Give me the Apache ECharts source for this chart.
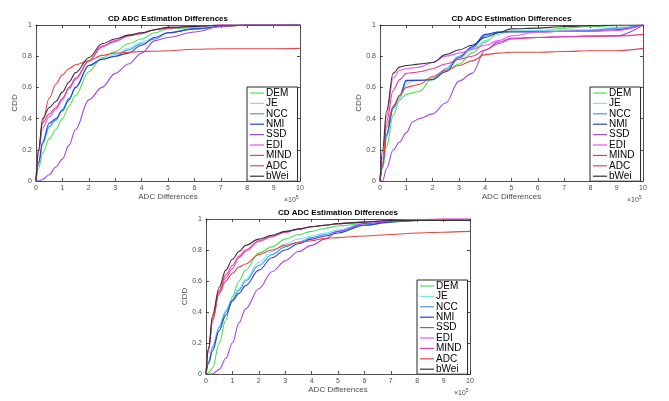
<!DOCTYPE html>
<html>
<head>
<meta charset="utf-8">
<script src="https://cdn.jsdelivr.net/npm/echarts@6/dist/echarts.min.js"></script>
<style>
  html, body { margin: 0; padding: 0; background: #fff; }
  #main { width: 669px; height: 401px; }
</style>
</head>
<body>
<div id="main"></div>
<script>
// x in units of 1e5
let xs = [0, 0.1, 0.25, 0.5, 0.75, 1, 1.25, 1.5, 2, 2.5, 3, 3.5, 4, 4.5, 5, 6, 7, 8, 9, 10];
let names = ['DEM', 'JE', 'NCC', 'NMI', 'SSD', 'EDI', 'MIND', 'ADC', 'bWei'];
let colors = ['#4fe24f', '#72e8ee', '#3c9cf0', '#2b3fe0', '#a244ec', '#f052f0', '#ee3a8c', '#ee4444', '#333333'];

// top left
let dem1 = [0, 0.08, 0.18, 0.27, 0.33, 0.40, 0.48, 0.55, 0.70, 0.79, 0.83, 0.88, 0.91, 0.95, 0.975, 0.985, 1, 1, 1, 1];
let je1 = [0, 0.10, 0.23, 0.34, 0.39, 0.45, 0.53, 0.60, 0.74, 0.78, 0.81, 0.85, 0.89, 0.92, 0.95, 0.975, 0.99, 1, 1, 1];
let ncc1 = [0, 0.11, 0.24, 0.35, 0.39, 0.46, 0.53, 0.60, 0.74, 0.78, 0.80, 0.84, 0.88, 0.91, 0.95, 0.975, 0.99, 1, 1, 1];
let nmi1 = [0, 0.12, 0.25, 0.37, 0.40, 0.45, 0.52, 0.60, 0.74, 0.78, 0.80, 0.82, 0.87, 0.92, 0.95, 0.975, 0.99, 1, 1, 1];
let ssd1 = [0, 0, 0.01, 0.04, 0.09, 0.14, 0.23, 0.33, 0.52, 0.60, 0.69, 0.75, 0.82, 0.90, 0.92, 0.955, 0.99, 1, 1, 1];
let edi1 = [0, 0.18, 0.34, 0.41, 0.46, 0.52, 0.59, 0.65, 0.77, 0.865, 0.90, 0.935, 0.95, 0.97, 0.985, 0.99, 1, 1, 1, 1];
let mind1 = [0, 0.20, 0.37, 0.43, 0.47, 0.53, 0.60, 0.66, 0.77, 0.86, 0.895, 0.93, 0.945, 0.97, 0.98, 0.99, 1, 1, 1, 1];
let adc1 = [0, 0.20, 0.38, 0.53, 0.62, 0.68, 0.72, 0.745, 0.77, 0.805, 0.82, 0.825, 0.83, 0.832, 0.835, 0.845, 0.848, 0.848, 0.848, 0.85];
let bwei1 = [0, 0.20, 0.40, 0.47, 0.51, 0.57, 0.635, 0.695, 0.79, 0.88, 0.91, 0.935, 0.95, 0.97, 0.985, 0.99, 1, 1, 1, 1];

// top right
let dem2 = [0, 0.08, 0.22, 0.42, 0.52, 0.555, 0.565, 0.575, 0.66, 0.70, 0.75, 0.82, 0.89, 0.95, 0.96, 0.96, 0.98, 0.99, 0.995, 1];
let je2 = [0, 0.10, 0.28, 0.46, 0.53, 0.62, 0.64, 0.645, 0.65, 0.71, 0.78, 0.84, 0.90, 0.94, 0.96, 0.965, 0.97, 0.97, 0.98, 1];
let ncc2 = [0, 0.10, 0.29, 0.47, 0.54, 0.64, 0.645, 0.645, 0.65, 0.72, 0.80, 0.85, 0.93, 0.955, 0.96, 0.96, 0.96, 0.965, 0.98, 1];
let nmi2 = [0, 0.10, 0.30, 0.47, 0.55, 0.645, 0.645, 0.645, 0.65, 0.70, 0.79, 0.86, 0.94, 0.955, 0.955, 0.955, 0.96, 0.96, 0.97, 1];
let ssd2 = [0, 0, 0.08, 0.20, 0.25, 0.31, 0.38, 0.40, 0.43, 0.50, 0.64, 0.69, 0.84, 0.89, 0.915, 0.92, 0.925, 0.93, 0.93, 1];
let edi2 = [0, 0.15, 0.42, 0.66, 0.71, 0.72, 0.725, 0.73, 0.76, 0.80, 0.82, 0.845, 0.87, 0.90, 0.93, 0.955, 0.96, 0.96, 0.965, 1];
let mind2 = [0, 0.12, 0.38, 0.58, 0.65, 0.69, 0.695, 0.70, 0.72, 0.75, 0.78, 0.80, 0.84, 0.88, 0.91, 0.92, 0.925, 0.925, 0.93, 0.94];
let adc2 = [0, 0.10, 0.35, 0.48, 0.55, 0.60, 0.61, 0.62, 0.67, 0.71, 0.74, 0.77, 0.81, 0.82, 0.825, 0.825, 0.83, 0.835, 0.835, 0.85];
let bwei2 = [0, 0.20, 0.45, 0.69, 0.73, 0.74, 0.745, 0.75, 0.76, 0.81, 0.84, 0.87, 0.92, 0.95, 0.975, 0.98, 0.99, 0.995, 1, 1];

// bottom
let dem3 = [0, 0.01, 0.04, 0.20, 0.35, 0.50, 0.60, 0.67, 0.78, 0.82, 0.87, 0.90, 0.92, 0.94, 0.955, 0.97, 0.985, 0.99, 0.99, 0.99];
let je3 = [0, 0.08, 0.18, 0.31, 0.41, 0.49, 0.55, 0.61, 0.72, 0.79, 0.84, 0.87, 0.89, 0.91, 0.93, 0.97, 0.985, 0.99, 0.99, 0.99];
let ncc3 = [0, 0.08, 0.17, 0.30, 0.40, 0.48, 0.54, 0.60, 0.70, 0.77, 0.82, 0.85, 0.88, 0.90, 0.92, 0.96, 0.98, 0.99, 0.99, 0.99];
let nmi3 = [0, 0.07, 0.15, 0.28, 0.38, 0.47, 0.52, 0.57, 0.67, 0.75, 0.80, 0.84, 0.87, 0.89, 0.91, 0.96, 0.98, 0.99, 0.99, 0.99];
let ssd3 = [0, 0, 0, 0.03, 0.10, 0.20, 0.33, 0.42, 0.55, 0.66, 0.73, 0.79, 0.83, 0.87, 0.92, 0.97, 0.985, 0.99, 1, 1];
let edi3 = [0, 0.15, 0.34, 0.53, 0.62, 0.68, 0.75, 0.79, 0.855, 0.885, 0.915, 0.935, 0.95, 0.96, 0.97, 0.98, 0.99, 0.995, 1, 1];
let mind3 = [0, 0.16, 0.36, 0.54, 0.64, 0.70, 0.76, 0.80, 0.86, 0.89, 0.915, 0.935, 0.95, 0.96, 0.97, 0.98, 0.99, 0.995, 1, 1];
let adc3 = [0, 0.17, 0.35, 0.52, 0.60, 0.65, 0.69, 0.71, 0.77, 0.80, 0.83, 0.85, 0.86, 0.875, 0.88, 0.89, 0.90, 0.91, 0.915, 0.92];
let bwei3 = [0, 0.17, 0.38, 0.56, 0.67, 0.74, 0.79, 0.83, 0.87, 0.895, 0.92, 0.935, 0.95, 0.96, 0.97, 0.98, 0.99, 0.99, 0.99, 0.99];

let panels = [
    [dem1, je1, ncc1, nmi1, ssd1, edi1, mind1, adc1, bwei1],
    [dem2, je2, ncc2, nmi2, ssd2, edi2, mind2, adc2, bwei2],
    [dem3, je3, ncc3, nmi3, ssd3, edi3, mind3, adc3, bwei3]
];

let grids = [
    {left: 36, top: 25, width: 264, height: 156},
    {left: 380, top: 25, width: 263, height: 156},
    {left: 206, top: 219, width: 264, height: 155}
];

let font = 'Liberation Sans, Arial, sans-serif';
let axisColor = '#262626';

let xAxis = [], yAxis = [], series = [], title = [], legend = [], graphic = [];

function boxAxis(pos, i, isX) {
    let a = {
        type: 'value', gridIndex: i, position: pos,
        axisLine: {onZero: false, lineStyle: {color: axisColor, width: 0.8}},
        axisTick: {inside: true, length: 3, lineStyle: {color: axisColor, width: 0.8}},
        axisLabel: {show: false}, splitLine: {show: false}
    };
    if (isX) { a.min = 0; a.max = 10; a.interval = 1; }
    else { a.min = 0; a.max = 1; a.interval = 0.2; }
    return a;
}

grids.forEach(function (g, i) {
    let xb = boxAxis('bottom', i, true);
    xb.name = 'ADC Differences';
    xb.nameLocation = 'middle';
    xb.nameGap = 12;
    xb.nameTextStyle = {fontSize: 8, color: '#4d4d4d', fontFamily: font};
    xb.axisLabel = {show: true, fontSize: 7, color: '#4d4d4d', margin: 4, fontFamily: font};
    xAxis.push(xb);
    xAxis.push(boxAxis('top', i, true));

    let yl = boxAxis('left', i, false);
    yl.name = 'CDD';
    yl.nameLocation = 'middle';
    yl.nameGap = 12;
    yl.nameRotate = 90;
    yl.nameTextStyle = {fontSize: 8, color: '#4d4d4d', fontFamily: font};
    yl.axisLabel = {show: true, fontSize: 7, color: '#4d4d4d', margin: 4, fontFamily: font,
        formatter: function (v) { return String(+v.toFixed(1)); }};
    yAxis.push(yl);
    yAxis.push(boxAxis('right', i, false));

    title.push({
        text: 'CD ADC Estimation Differences',
        left: g.left + g.width / 2, top: g.top - 10, textAlign: 'center', padding: 0,
        textStyle: {fontSize: 8, fontWeight: 'bold', color: '#000', fontFamily: font}
    });

    legend.push({
        orient: 'vertical',
        left: g.left + g.width - 53, top: g.top + g.height - 94,
        data: names,
        icon: 'rect',
        backgroundColor: '#fff',
        borderColor: '#262626', borderWidth: 1,
        padding: [1, 6, 0, 3],
        itemWidth: 14, itemHeight: 1.2, itemGap: 0.4,
        selectedMode: false,
        textStyle: {fontSize: 10, lineHeight: 9.5, color: '#000', fontFamily: font, padding: [0, 0, 0, -3]}
    });

    graphic.push({
        type: 'text',
        left: g.left + g.width - 16, top: g.top + g.height + 14,
        style: {
            text: '×10{s|5}',
            rich: {s: {fontSize: 5, verticalAlign: 'top', padding: [0, 0, 5, 0], fill: '#4d4d4d'}},
            font: '7px ' + font, fill: '#4d4d4d'
        }
    });

    panels[i].forEach(function (arr, k) {
        series.push({
            name: names[k], type: 'line',
            xAxisIndex: i * 2, yAxisIndex: i * 2,
            data: xs.map(function (x, j) { return [x, arr[j]]; }),
            showSymbol: false, symbol: 'none',
            smooth: 0.35, smoothMonotone: 'x',
            lineStyle: {width: 1.1, color: colors[k]},
            itemStyle: {color: colors[k]},
            animation: false, z: 2 + k
        });
    });
});

let chart = echarts.init(document.getElementById('main'));
chart.setOption({
    backgroundColor: '#fff',
    animation: false,
    grid: grids,
    title: title,
    legend: legend,
    xAxis: xAxis,
    yAxis: yAxis,
    series: series,
    graphic: graphic
});
</script>
</body>
</html>
